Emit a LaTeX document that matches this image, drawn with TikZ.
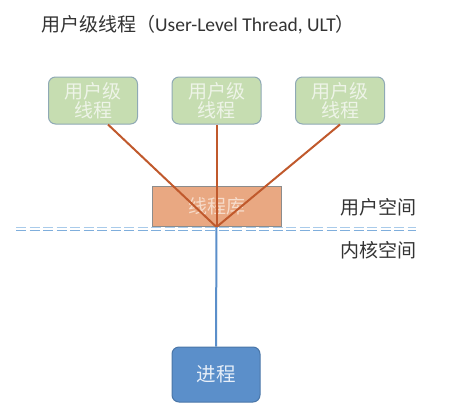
\documentclass[tikz,border=0pt]{standalone}
\usepackage{fontspec}
\setmainfont{Carlito}
\newfontfamily\cjk{Noto Sans CJK SC}
\usetikzlibrary{calc}
\definecolor{gfill}{HTML}{C6DDB1}
\definecolor{gdraw}{HTML}{8FA9B5}
\definecolor{gtext}{HTML}{EEF4E8}
\definecolor{ofill}{HTML}{E9A882}
\definecolor{odraw}{HTML}{8C8C8C}
\definecolor{otext}{HTML}{F6DCCB}
\definecolor{bfill}{HTML}{5B8FCA}
\definecolor{bdraw}{HTML}{4A76A8}
\definecolor{btext}{HTML}{E6EEF8}
\definecolor{brline}{HTML}{C0592C}
\definecolor{blline}{HTML}{5B8FCA}
\definecolor{dash1}{HTML}{A9CBEA}
\definecolor{dash2}{HTML}{7FAEDC}
\definecolor{txt}{HTML}{333333}
\tikzset{
  ubox/.style={draw=gdraw, line width=1pt, fill=gfill, rounded corners=7pt,
    minimum width=89pt, minimum height=47pt, inner sep=0pt, align=center,
    text=gtext, font=\cjk\fontsize{19}{19}\selectfont},
  libbox/.style={draw=odraw, line width=0.8pt, fill=ofill,
    minimum width=129pt, minimum height=40pt, inner sep=0pt,
    text=otext, font=\cjk\fontsize{19}{21}\selectfont},
  pbox/.style={draw=bdraw, line width=1pt, fill=bfill, rounded corners=7pt,
    minimum width=88pt, minimum height=55pt, inner sep=0pt,
    text=btext, font=\cjk\fontsize{19.5}{21}\selectfont},
  bline/.style={draw=brline, line width=2pt},
  kline/.style={draw=blline, line width=2pt},
  sep/.style={line width=1.3pt, dash pattern=on 10pt off 3.5pt},
  lbl/.style={text=txt, font=\cjk\fontsize{19}{21}\selectfont, inner sep=0pt},
}
\begin{document}
\begin{tikzpicture}[x=1pt,y=-1pt]
\useasboundingbox (0,0) rectangle (458,418);
\node[anchor=west, text=txt, inner sep=0pt] (title) at (41,25)
  {{\cjk\fontsize{19}{21}\selectfont 用户级线程（}{\fontsize{19.5}{21}\selectfont User-Level Thread, ULT}{\cjk\fontsize{19}{21}\selectfont ）}};
\node[ubox] (g1) at (93,100.5) {用户级\\线程};
\node[ubox] (g2) at (216.5,100.5) {用户级\\线程};
\node[ubox] (g3) at (340,100.5) {用户级\\线程};
\node[libbox] (lib) at (216.5,206) {线程库};
\node[pbox] (p) at (216,374.5) {进程};
\coordinate (j) at (216.5,227);
\coordinate (dl) at (16,227.5);
\coordinate (dr) at (416,227.5);
\draw[sep, dash1] (dl) -- (dr);
\draw[sep, dash2] ($(dl)+(0,3)$) -- ($(dr)+(0,3)$);
\draw[bline] ($(g1.south)+(15,0)$) -- (j);
\draw[bline] (g2.south) -- (j);
\draw[bline] (g3.south) -- (j);
\draw[kline] (j) -- (p.north);
\node[lbl, anchor=west] (us) at (340,207) {用户空间};
\node[lbl, anchor=west] (ks) at (340,250) {内核空间};
\end{tikzpicture}
\end{document}
